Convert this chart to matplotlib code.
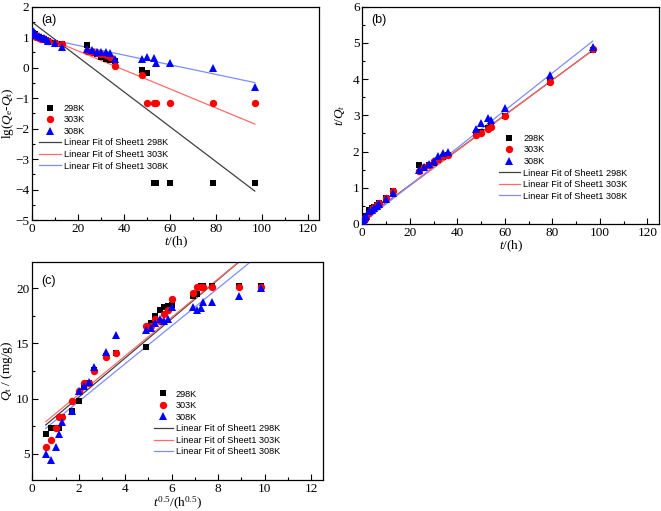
import matplotlib
matplotlib.use("Agg")
import matplotlib.pyplot as plt
from matplotlib.ticker import MultipleLocator, AutoMinorLocator

plt.rcParams['font.family'] = ['Liberation Serif', 'DejaVu Serif']
plt.rcParams['mathtext.fontset'] = 'custom'
plt.rcParams['mathtext.rm'] = 'Liberation Serif'
plt.rcParams['mathtext.it'] = 'Liberation Serif:italic'

# ---------------- data ----------------
t_h = [0.33, 0.67, 1, 1.33, 1.67, 3, 4, 5, 6, 7, 10, 13, 24, 26, 28, 30, 32, 34, 36,
       48, 50, 53, 54, 60, 79, 97]
sqrt_t = [0.58, 0.82, 1.0, 1.15, 1.29, 1.73, 2.0, 2.24, 2.45, 2.65, 3.16, 3.6, 4.9, 5.1,
          5.29, 5.48, 5.66, 5.83, 6.0, 6.93, 7.07, 7.28, 7.35, 7.75, 8.89, 9.85]

# (a) lg(Qe-Qt)
lg_298 = [1.14, 1.11, 1.09, 1.07, 1.05, 1.0, 0.97, 0.95, 0.9, 0.86, 0.8, 0.78, 0.73, 0.52,
          0.45, 0.35, 0.30, 0.25, 0.22, -0.07, -0.18, -3.78, -3.78, -3.78, -3.78, -3.78]
lg_303 = [1.12, 1.08, 1.06, 1.03, 1.0, 0.97, 0.95, 0.93, 0.9, 0.87, 0.8, 0.78, 0.55, 0.5,
          0.47, 0.45, 0.4, 0.35, 0.06, -0.25, -1.15, -1.15, -1.15, -1.15, -1.15, -1.15]
lg_308 = [1.2, 1.17, 1.12, 1.1, 1.07, 1.03, 1.0, 0.97, 0.93, 0.88, 0.8, 0.67, 0.6, 0.58,
          0.52, 0.5, 0.5, 0.48, 0.3, 0.3, 0.36, 0.33, 0.15, 0.15, 0.0, -0.65]
fit_x_a = [0.33, 97]
fit_a_298 = [1.47, -4.05]
fit_a_303 = [1.16, -1.85]
fit_a_308 = [1.04, -0.49]

# (b) t/Qt
tq_298 = [0.06, 0.11, 0.15, 0.17, 0.21, 0.38, 0.43, 0.47, 0.53, 0.57, 0.73, 0.9, 1.63,
          1.55, 1.62, 1.68, 1.77, 1.85, 1.9, 2.5, 2.55, 2.65, 2.68, 2.97, 3.92, 4.8]
tq_303 = [0.06, 0.11, 0.14, 0.16, 0.2, 0.3, 0.42, 0.47, 0.53, 0.57, 0.73, 0.92, 1.45,
          1.57, 1.62, 1.73, 1.8, 1.87, 1.9, 2.45, 2.5, 2.63, 2.68, 2.98, 3.92, 4.82]
tq_308 = [0.07, 0.15, 0.18, 0.19, 0.21, 0.35, 0.4, 0.45, 0.5, 0.55, 0.7, 0.85, 1.48,
          1.58, 1.65, 1.75, 1.88, 1.97, 1.98, 2.62, 2.78, 2.92, 2.88, 3.2, 4.12, 4.88]
fit_x_b = [0.33, 97]
fit_b_298 = [0.12, 4.8]
fit_b_303 = [0.10, 4.8]
fit_b_308 = [0.05, 5.05]

# (c) Qt
qt_298 = [6.8, 7.3, 7.3, 7.3, 8.3, 8.9, 9.8, 11.2, 11.4, 12.6, 13.9, 14.1, 14.7, 16.9,
          17.5, 18.0, 18.3, 18.4, 18.5, 19.3, 19.5, 20.2, 20.2, 20.2, 20.2, 20.2]
qt_303 = [5.6, 6.2, 7.3, 8.3, 8.3, 9.8, 10.7, 11.4, 11.4, 12.5, 13.8, 14.1, 16.6, 16.6,
          17.2, 17.0, 17.7, 18.0, 19.0, 19.6, 20.1, 20.1, 20.1, 20.1, 20.1, 20.1]
qt_308 = [5.0, 4.4, 5.6, 6.8, 7.9, 8.9, 10.7, 11.1, 11.5, 12.9, 14.2, 15.8, 16.2, 16.4,
          16.9, 17.2, 17.0, 17.2, 18.3, 18.3, 18.0, 18.2, 18.8, 18.8, 19.3, 20.0]
fit_x_c = [0.58, 9.85]
fit_c_298 = [7.6, 24.1]
fit_c_303 = [7.9, 24.1]
fit_c_308 = [7.3, 23.2]

labels_pts = ['298K', '303K', '308K']
labels_fit = ['Linear Fit of Sheet1 298K', 'Linear Fit of Sheet1 303K',
              'Linear Fit of Sheet1 308K']

pt_colors = ['#000000', '#ff0000', '#0000ff']
pt_markers = ['s', 'o', '^']
pt_sizes = [4.8, 5.3, 5.9]
fit_colors = ['#404040', '#ff6b6b', '#7f8cff']

W, H = 661, 511
fig = plt.figure(figsize=(W / 100, H / 100), dpi=100)

def px_axes(l, r, t, b):
    return fig.add_axes([l / W, 1 - b / H, (r - l) / W, (b - t) / H])

axA = px_axes(32.3, 319, 6.7, 220)
axB = px_axes(362.3, 659.3, 6.7, 224)
axC = px_axes(32.3, 322.7, 262, 480)

def style(ax, xmaj, ymaj):
    ax.xaxis.set_major_locator(MultipleLocator(xmaj))
    ax.yaxis.set_major_locator(MultipleLocator(ymaj))
    ax.xaxis.set_minor_locator(AutoMinorLocator(2))
    ax.yaxis.set_minor_locator(AutoMinorLocator(2))
    ax.tick_params(which='both', direction='in', top=False, right=False,
                   labelsize=9.5, pad=2)
    ax.tick_params(which='major', length=4, width=0.8)
    ax.tick_params(which='minor', length=2.5, width=0.8)
    for s in ax.spines.values():
        s.set_linewidth(0.9)

def draw(ax, x, ys, fx, fys, legloc, hl):
    hs = []
    for y, c, m, ms, lab in zip(ys, pt_colors, pt_markers, pt_sizes, labels_pts):
        h, = ax.plot(x, y, linestyle='none', marker=m, color=c, markersize=ms,
                     markeredgewidth=0, label=lab, zorder=3)
        hs.append(h)
    for fy, c, lab in zip(fys, fit_colors, labels_fit):
        h, = ax.plot(fx, fy, color=c, lw=0.9, label=lab, zorder=2)
        hs.append(h)
    leg = ax.legend(handles=hs, loc='upper left', bbox_to_anchor=legloc,
                    frameon=False, prop={'family': 'Liberation Sans', 'size': 6.6},
                    handlelength=hl, handletextpad=0.35, labelspacing=0.28,
                    borderaxespad=0, borderpad=0)
    return leg

# (a)
draw(axA, t_h, [lg_298, lg_303, lg_308], fit_x_a, [fit_a_298, fit_a_303, fit_a_308],
     (0.025, 0.545), 2.3)
axA.set_xlim(0, 125)
axA.set_ylim(-5, 2)
style(axA, 20, 1)
axA.set_xlabel(r'$\mathit{t}$/(h)', fontsize=9.5, labelpad=0)
axA.set_ylabel(r'lg($\mathit{Q}_\mathrm{e}$-$\mathit{Q}_\mathrm{t}$)', fontsize=9.5)
axA.yaxis.set_label_coords(-0.058, 0.5)
axA.text(0.03, 0.965, '(a)', transform=axA.transAxes, ha='left', va='top',
         family='Liberation Sans', fontsize=9)

# (b)
draw(axB, t_h, [tq_298, tq_303, tq_308], fit_x_b, [fit_b_298, fit_b_303, fit_b_308],
     (0.46, 0.415), 2.3)
axB.set_xlim(0, 125)
axB.set_ylim(0, 6)
style(axB, 20, 1)
axB.set_xlabel(r'$\mathit{t}$/(h)', fontsize=9.5, labelpad=0)
axB.set_ylabel(r'$\mathit{t/Q}_\mathit{t}$', fontsize=9.5)
axB.yaxis.set_label_coords(-0.052, 0.5)
axB.text(0.03, 0.965, '(b)', transform=axB.transAxes, ha='left', va='top',
         family='Liberation Sans', fontsize=9)

# (c)
draw(axC, sqrt_t, [qt_298, qt_303, qt_308], fit_x_c, [fit_c_298, fit_c_303, fit_c_308],
     (0.42, 0.415), 2.0)
axC.set_xlim(0, 12.5)
axC.set_ylim(2.6, 22.4)
style(axC, 2, 5)
axC.set_xlabel(r'$\mathit{t}^{0.5}$/(h$^{0.5}$)', fontsize=9.5, labelpad=0)
axC.set_ylabel(r'$\mathit{Q}_\mathrm{t}$ / (mg/g)', fontsize=9.5)
axC.yaxis.set_label_coords(-0.058, 0.5)
axC.text(0.03, 0.94, '(c)', transform=axC.transAxes, ha='left', va='top',
         family='Liberation Sans', fontsize=9)

fig.savefig('out.png', dpi=100)
